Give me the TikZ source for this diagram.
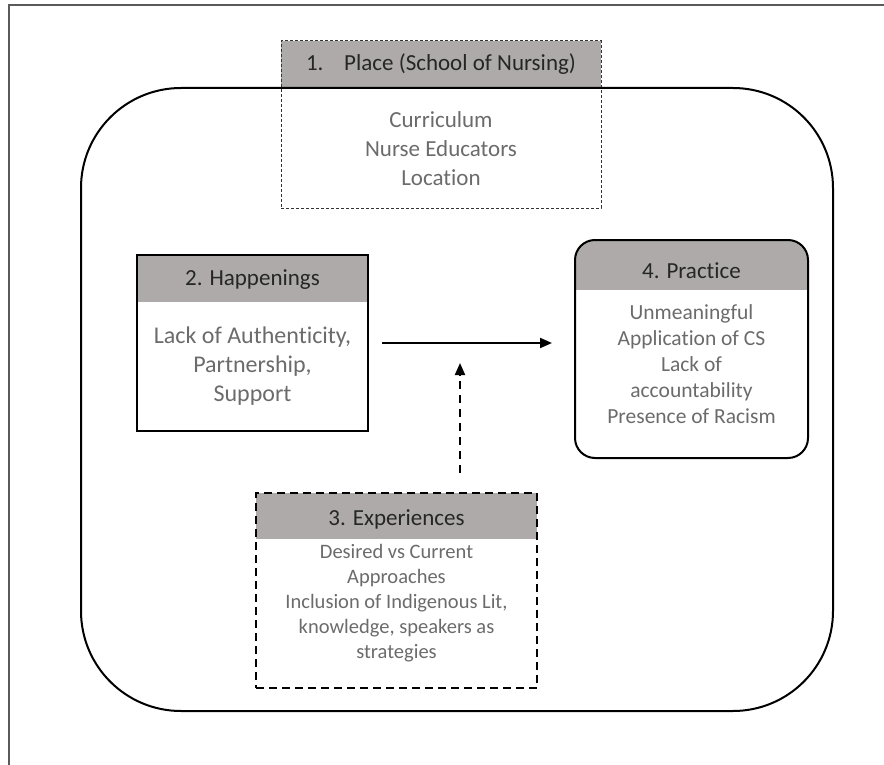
\documentclass[tikz,border=0pt]{standalone}
\usepackage{fontspec}
\setmainfont[Ligatures=NoCommon]{Carlito}
\usetikzlibrary{arrows.meta}
\definecolor{hdrfill}{HTML}{AEAAAA}
\definecolor{hdrtext}{HTML}{262626}
\definecolor{bodytext}{HTML}{6B6B6B}
\definecolor{framegray}{HTML}{5A5A5A}
\begin{document}
\begin{tikzpicture}[x=1pt,y=-1pt,
  hdrband/.style={path picture={\fill[hdrfill, sharp corners] (path picture bounding box.north west) rectangle ([yshift=-#1]path picture bounding box.north east);}},
  panel/.style={rectangle, inner sep=0pt, outer sep=0pt},
  hdr/.style={text=hdrtext, inner sep=0pt, font=\fontsize{23}{28}\selectfont},
  body/.style={text=bodytext, inner sep=0pt, align=center},
  conn/.style={line width=2pt, -{Triangle[length=12pt,width=10pt]}},
]
\useasboundingbox (0,0) rectangle (884,765);
% outer frame (only top and left visible)
\draw[framegray, line width=2pt] (9,765) -- (9,5) -- (884,5);

% 1. Place
\node[panel, hdrband=47pt, draw=black!80, line width=1pt, dash pattern=on 3pt off 2pt,
      minimum width=320pt, minimum height=167pt] (place) at (441,124.5) {};
% big rounded container
\draw[line width=2pt, rounded corners=100pt] (81,88) rectangle (833,711);
\node[hdr] (placeh) at (441,64) {1.\hspace{0.9em}Place (School of Nursing)};
\node[body, font=\fontsize{23}{29}\selectfont] (placeb) at (441,149) {Curriculum\\Nurse Educators\\Location};

% 2. Happenings
\node[panel, hdrband=47pt, draw=black, line width=2pt,
      minimum width=231pt, minimum height=176pt] (hap) at (252.5,343) {};
\node[hdr] (haph) at (252.5,280) {2. Happenings};
\node[body, font=\fontsize{24}{29}\selectfont] (hapb) at (252.5,366.5) {Lack of Authenticity,\\Partnership,\\Support};

% 4. Practice
\node[panel, hdrband=50pt, draw=black, line width=2pt, rounded corners=20pt,
      minimum width=233pt, minimum height=218pt] (prac) at (691.5,349) {};
\node[hdr] (prach) at (691.5,271) {4. Practice};
\node[body, font=\fontsize{21.5}{26}\selectfont] (pracb) at (691.5,364) {Unmeaningful\\Application of CS\\Lack of\\accountability\\Presence of Racism};

% 3. Experiences
\node[panel, hdrband=46pt, draw=black, line width=2.5pt, dash pattern=on 8pt off 5pt,
      minimum width=281pt, minimum height=195pt] (exp) at (396.5,590.5) {};
\node[hdr] (exph) at (396.5,519) {3. Experiences};
\node[body, font=\fontsize{20.5}{25}\selectfont] (expb) at (396.5,603) {Desired vs Current\\Approaches\\Inclusion of Indigenous Lit,\\knowledge, speakers as\\strategies};

% connectors
\draw[conn] ([xshift=14pt]hap.east) -- ([xshift=-23pt]prac.west |- hap.east);
\coordinate (dbot) at (460,473);
\coordinate (dtop) at (460,363);
\draw[conn, dash pattern=on 8pt off 6pt] (dbot) -- (dtop);
\end{tikzpicture}
\end{document}
